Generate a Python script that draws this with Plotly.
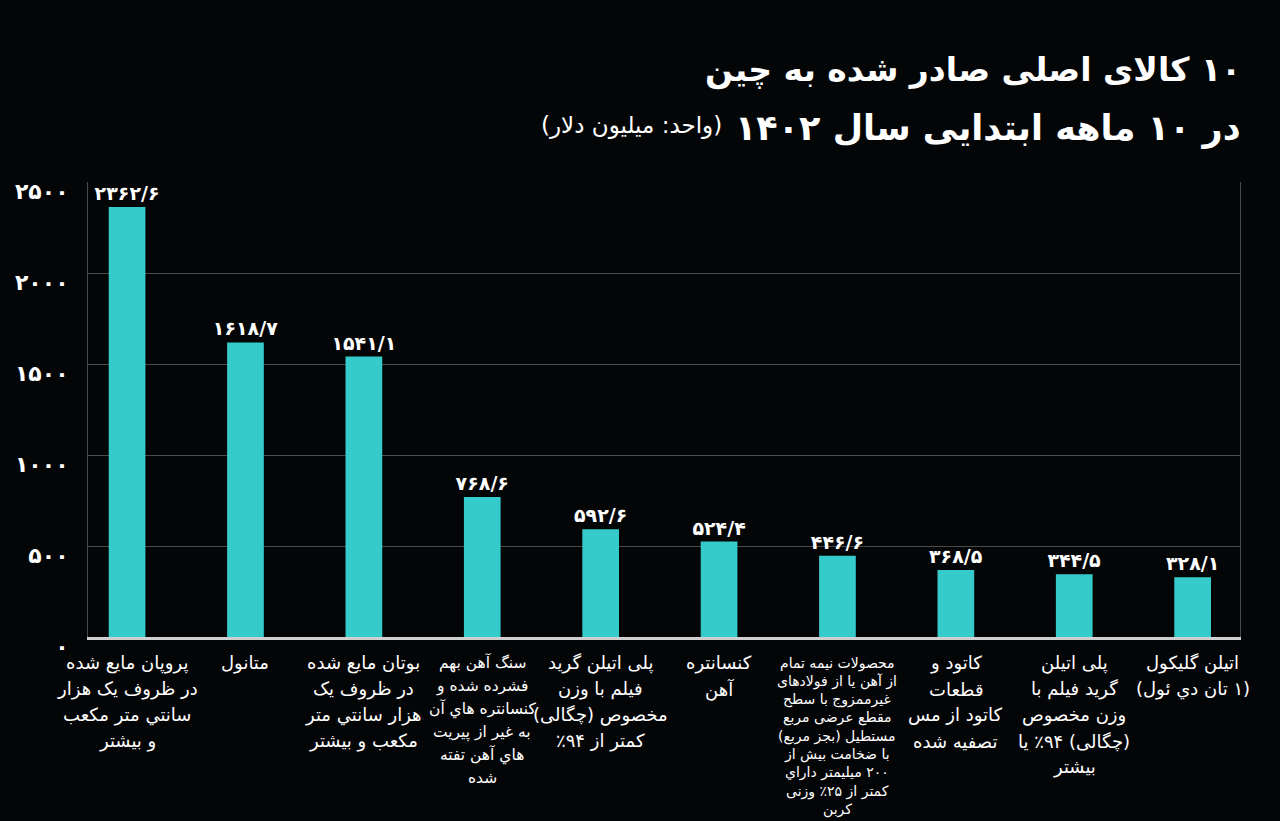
import plotly.graph_objects as go

RLM = "\u200f"

# ---- data ----
category_lines = [
    ["پروپان مایع شده", "در ظروف یک هزار", "سانتي متر مکعب", "و بیشتر"],
    ["متانول"],
    ["بوتان مایع شده", "در ظروف یک", "هزار سانتي متر", "مکعب و بیشتر"],
    ["سنگ آهن بهم", "فشرده شده و", "کنسانتره هاي آن", "به غیر از پیریت", "هاي آهن تفته", "شده"],
    ["پلی اتیلن گرید", "فیلم با وزن", "مخصوص (چگالی)", "کمتر از ۹۴٪"],
    ["کنسانتره", "آهن"],
    ["محصولات نیمه تمام", "از آهن یا از فولادهای", "غیرممزوج با سطح", "مقطع عرضی مربع",
     "مستطیل (بجز مربع)", "با ضخامت بیش از", "۲۰۰ میلیمتر داراي", "کمتر از ۲۵٪ وزنی", "کربن"],
    ["کاتود و", "قطعات", "کاتود از مس", "تصفیه شده"],
    ["پلی اتیلن", "گرید فیلم با", "وزن مخصوص", "(چگالی) ۹۴٪ یا", "بیشتر"],
    ["اتیلن گلیکول", "(۱ تان دي ئول)"],
]
values = [2362.6, 1618.7, 1541.1, 768.6, 592.6, 524.4, 446.6, 368.5, 344.5, 328.1]
y_ticks = [0, 500, 1000, 1500, 2000, 2500]

title_line1 = "۱۰ کالای اصلی صادر شده به چین"
title_line2 = "در ۱۰ ماهه ابتدایی سال ۱۴۰۲"
unit_text = "(واحد: میلیون دلار)"

# label styling (font size, line spacing in px) per category
label_sizes = [18, 18, 18, 15.5, 18, 18, 14, 18, 18, 18]
label_spacing = [26, 26, 26, 23, 26, 26, 18.3, 26, 26, 26]

FA_DIGITS = str.maketrans("0123456789.", "۰۱۲۳۴۵۶۷۸۹/")


def fa(s):
    return str(s).translate(FA_DIGITS)


def rtl(s):
    return RLM + s + RLM


categories = [" ".join(lines) for lines in category_lines]
value_text = [fa(f"{v:.1f}") for v in values]

FONT = "DejaVu Sans"
BAR = "#35CBCB"
BG = "#040506"

fig = go.Figure()
fig.add_trace(go.Bar(
    x=categories,
    y=values,
    width=0.31,
    marker=dict(color=BAR, line=dict(width=0)),
    text=value_text,
    textposition="outside",
    constraintext="none",
    textfont=dict(family=FONT, size=19, color="white", weight=700),
    cliponaxis=False,
))

fig.update_layout(
    width=1280, height=821,
    paper_bgcolor=BG,
    plot_bgcolor=BG,
    margin=dict(l=88, r=40, t=182, b=184),
    showlegend=False,
    font=dict(family=FONT, color="white"),
    xaxis=dict(
        type="category",
        range=[-0.33, 9.40],
        showgrid=False,
        showline=True, linecolor="#cfcfcf", linewidth=3,
        ticks="", showticklabels=False,
        zeroline=False,
    ),
    yaxis=dict(
        range=[0, 2500],
        tickvals=y_ticks,
        ticktext=[fa(t) for t in y_ticks],
        showgrid=True, gridcolor="#4a4a4a", gridwidth=1,
        showline=True, linecolor="#4a4a4a", linewidth=1, mirror=True,
        ticks="", ticklabelstandoff=14, ticklabelshift=9,
        tickfont=dict(family=FONT, size=22, color="white", weight=700),
        zeroline=False,
    ),
)

# category labels, one annotation per line
for cat, lines, size, sp in zip(categories, category_lines, label_sizes, label_spacing):
    for j, line in enumerate(lines):
        fig.add_annotation(
            x=cat, xref="x", y=0, yref="paper",
            xanchor="center", yanchor="middle",
            yshift=-(26 + j * sp),
            text=rtl(line), showarrow=False,
            font=dict(family=FONT, size=size, color="white"),
        )

fig.add_annotation(
    xref="paper", yref="paper", x=1.003, y=1.246, xanchor="right", yanchor="middle",
    text=rtl(title_line1), showarrow=False,
    font=dict(family=FONT, size=33, color="white", weight=700),
)
fig.add_annotation(
    xref="paper", yref="paper", x=1.003, y=1.118, xanchor="right", yanchor="middle",
    text=rtl(title_line2), showarrow=False,
    font=dict(family=FONT, size=35, color="white", weight=700),
)
fig.add_annotation(
    xref="paper", yref="paper", x=0.552, y=1.124, xanchor="right", yanchor="middle",
    text=rtl(unit_text), showarrow=False,
    font=dict(family=FONT, size=23, color="white"),
)

fig.write_html(
    "out.html",
    config={"displayModeBar": False},
    post_script="document.body.style.margin='0';document.body.style.background='%s';" % BG,
)
